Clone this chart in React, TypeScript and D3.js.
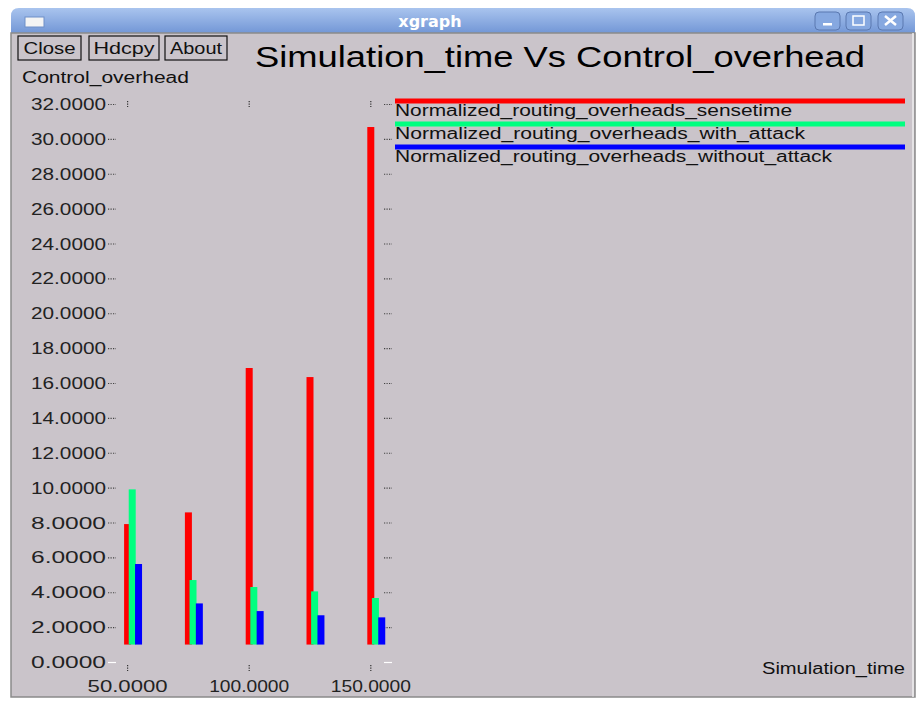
import React, { useEffect, useRef } from 'react';
import * as d3 from 'd3';

// data
const SIM_TIMES = [50, 75, 100, 125, 150];
const SENSETIME = [7.91, 8.58, 16.86, 16.34, 30.68];
const WITH_ATTACK = [9.9, 4.7, 4.3, 4.05, 3.67];
const WITHOUT_ATTACK = [5.62, 3.36, 2.92, 2.68, 2.56];
const SERIES_NAMES = [
  'Normalized_routing_overheads_sensetime',
  'Normalized_routing_overheads_with_attack',
  'Normalized_routing_overheads_without_attack',
];
const Y_TICKS = d3.range(0, 34, 2);
const X_TICKS = [50, 100, 150];

const COLORS = ['#ff0000', '#00ff80', '#0000ff'];
const OFFSETS = [0, 1.9, 4.5]; // xgraph shifts each data set a little
const BAR_BASE = 1.0;
const FONT = '"Liberation Sans", Arial, sans-serif';
const BG = '#cac4ca';

export default function App() {
  const svgRef = useRef<SVGSVGElement>(null);

  useEffect(() => {
    if (!svgRef.current) return;
    const svg = d3.select(svgRef.current);
    svg.selectAll('*').remove();

    const W = 921;
    const H = 705;
    svg.attr('width', W).attr('height', H);

    // window frame
    svg.append('rect').attr('width', W).attr('height', H).attr('fill', '#ffffff');
    const defs = svg.append('defs');
    const grad = defs.append('linearGradient').attr('id', 'tb').attr('x1', 0).attr('y1', 0).attr('x2', 0).attr('y2', 1);
    grad.append('stop').attr('offset', '0%').attr('stop-color', '#a9c4ee');
    grad.append('stop').attr('offset', '100%').attr('stop-color', '#7397d6');

    svg.append('path')
      .attr('d', 'M11,33 L11,16 Q11,8 19,8 L907,8 Q915,8 915,16 L915,33 Z')
      .attr('fill', 'url(#tb)');
    svg.append('rect').attr('x', 11).attr('y', 33).attr('width', 904).attr('height', 664)
      .attr('fill', BG).attr('stroke', '#8a8a8a').attr('stroke-width', 1.5);
    svg.append('line').attr('x1', 913).attr('x2', 913).attr('y1', 33).attr('y2', 697).attr('stroke', '#eeeeee').attr('stroke-width', 1.5);

    // title bar icon and text
    svg.append('rect').attr('x', 25).attr('y', 17).attr('width', 19).attr('height', 10)
      .attr('fill', '#f4f4f4').attr('stroke', '#6f8fc8');
    svg.append('text').attr('x', 430).attr('y', 27).attr('text-anchor', 'middle')
      .attr('font-family', '"DejaVu Sans", sans-serif').attr('font-weight', 'bold').attr('font-size', 16)
      .attr('fill', '#ffffff').text('xgraph');

    // window buttons
    [815, 846, 878].forEach((bx, i) => {
      svg.append('rect').attr('x', bx).attr('y', 12).attr('width', 25).attr('height', 18).attr('rx', 4)
        .attr('fill', '#86a8e0').attr('stroke', '#5a78b0');
      if (i === 0) {
        svg.append('rect').attr('x', bx + 8).attr('y', 23).attr('width', 9).attr('height', 2.5).attr('fill', '#ffffff');
      } else if (i === 1) {
        svg.append('rect').attr('x', bx + 7).attr('y', 16).attr('width', 11).attr('height', 9)
          .attr('fill', 'none').attr('stroke', '#ffffff').attr('stroke-width', 1.5);
      } else {
        svg.append('path').attr('d', `M${bx + 7},16 L${bx + 18},25 M${bx + 18},16 L${bx + 7},25`)
          .attr('stroke', '#ffffff').attr('stroke-width', 2.5);
      }
    });

    // xgraph buttons
    const buttons = [
      { label: 'Close', x: 18, w: 63, tl: 52 },
      { label: 'Hdcpy', x: 89, w: 70, tl: 61 },
      { label: 'About', x: 165, w: 62, tl: 52 },
    ];
    buttons.forEach(b => {
      svg.append('rect').attr('x', b.x).attr('y', 36).attr('width', b.w).attr('height', 24)
        .attr('fill', 'none').attr('stroke', '#111').attr('stroke-width', 1.2);
      svg.append('text').attr('x', b.x + b.w / 2).attr('y', 54).attr('text-anchor', 'middle')
        .attr('font-family', FONT).attr('font-size', 17).attr('fill', '#111')
        .attr('textLength', b.tl).attr('lengthAdjust', 'spacingAndGlyphs').text(b.label);
    });

    svg.append('text').attr('x', 255).attr('y', 67)
      .attr('font-family', FONT).attr('font-size', 30).attr('fill', '#000')
      .attr('textLength', 610).attr('lengthAdjust', 'spacingAndGlyphs')
      .text('Simulation_time Vs Control_overhead');

    svg.append('text').attr('x', 22).attr('y', 83)
      .attr('font-family', FONT).attr('font-size', 16).attr('fill', '#111')
      .attr('textLength', 167).attr('lengthAdjust', 'spacingAndGlyphs')
      .text('Control_overhead');

    // scales
    const x = d3.scaleLinear().domain([50, 150]).range([127.6, 370.8]);
    const y = d3.scaleLinear().domain([0, 32]).range([662, 104]);
    const leftTick = 108;
    const rightTick = 384;

    // y ticks and labels
    Y_TICKS.forEach(t => {
      svg.append('text').attr('x', 106).attr('y', y(t) + 6).attr('text-anchor', 'end')
        .attr('font-family', FONT).attr('font-size', 16).attr('fill', '#222')
        .attr('textLength', 75).attr('lengthAdjust', 'spacingAndGlyphs')
        .text(t.toFixed(4));
      const col = t === 0 ? '#ffffff' : '#444';
      const dash = t === 0 ? null : '1.2,1.3';
      [leftTick, rightTick].forEach(tx => {
        svg.append('line').attr('x1', tx).attr('x2', tx + 8).attr('y1', y(t) + 0.5).attr('y2', y(t) + 0.5)
          .attr('stroke', col).attr('stroke-width', 1.2).attr('stroke-dasharray', dash);
      });
    });

    // x ticks and labels
    X_TICKS.forEach(t => {
      [y(32) - 3, y(0) + 3].forEach(ty => {
        svg.append('line').attr('x1', x(t)).attr('x2', x(t)).attr('y1', ty).attr('y2', ty + 6)
          .attr('stroke', '#333').attr('stroke-width', 1.2).attr('stroke-dasharray', '1.2,1.3');
      });
      svg.append('text').attr('x', x(t)).attr('y', 692).attr('text-anchor', 'middle')
        .attr('font-family', FONT).attr('font-size', 16).attr('fill', '#222')
        .attr('textLength', 80).attr('lengthAdjust', 'spacingAndGlyphs')
        .text(t.toFixed(4));
    });

    svg.append('text').attr('x', 905).attr('y', 674).attr('text-anchor', 'end')
      .attr('font-family', FONT).attr('font-size', 16).attr('fill', '#111')
      .attr('textLength', 143).attr('lengthAdjust', 'spacingAndGlyphs')
      .text('Simulation_time');

    // bars
    const series = [SENSETIME, WITH_ATTACK, WITHOUT_ATTACK];
    const barW = 7;
    series.forEach((vals, si) => {
      svg.append('g').selectAll('rect')
        .data(vals)
        .join('rect')
        .attr('x', (_, i) => x(SIM_TIMES[i] + OFFSETS[si]) - barW / 2)
        .attr('y', d => y(d))
        .attr('width', barW)
        .attr('height', d => y(BAR_BASE) - y(d))
        .attr('fill', COLORS[si]);
    });

    // legend
    const legendX = 395;
    const legendW = 510;
    const legendLen = [397, 410, 437];
    SERIES_NAMES.forEach((name, i) => {
      const ly = 101 + i * 23;
      svg.append('rect').attr('x', legendX).attr('y', ly - 2.5).attr('width', legendW).attr('height', 5)
        .attr('fill', COLORS[i]);
      svg.append('text').attr('x', legendX).attr('y', ly + 15)
        .attr('font-family', FONT).attr('font-size', 16).attr('fill', '#111')
        .attr('textLength', legendLen[i]).attr('lengthAdjust', 'spacingAndGlyphs')
        .text(name);
    });
  }, []);

  return (
    <svg ref={svgRef} style={{ position: 'absolute', left: 0, top: 0, display: 'block' }} />
  );
}
